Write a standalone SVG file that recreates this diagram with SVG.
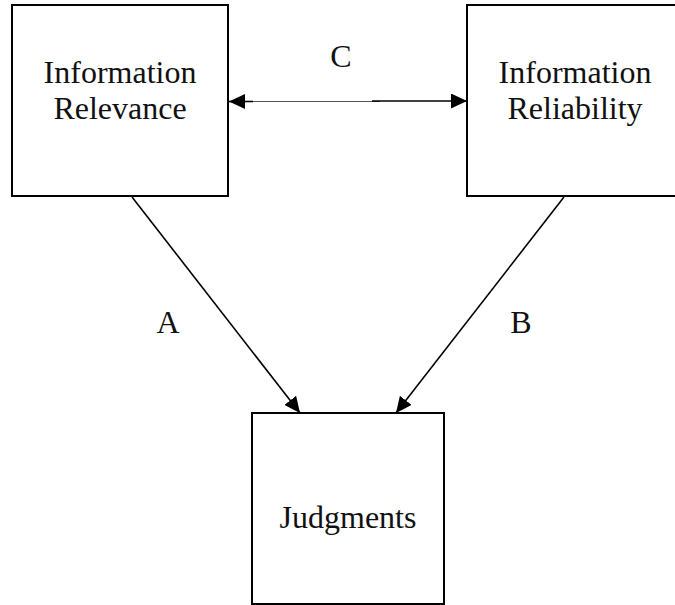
<svg xmlns="http://www.w3.org/2000/svg" width="675" height="605" viewBox="0 0 675 605">
  <style>
    .box { fill: #ffffff; stroke: #000000; stroke-width: 2; }
    .lbl { font-family: "Liberation Serif", "Times New Roman", serif; font-size: 32px; fill: #111111; text-anchor: middle; }
    .edge { fill: none; stroke: #000000; stroke-width: 1.6; }
    .thin { fill: none; stroke: #555555; stroke-width: 1; }
  </style>
  <defs>
    <marker id="head" viewBox="0 0 16 15" refX="16" refY="7.5" markerWidth="16" markerHeight="15" markerUnits="userSpaceOnUse" orient="auto-start-reverse">
      <path d="M0,0 L16,7.5 L0,15 Z" fill="#000000"/>
    </marker>
  </defs>
  <rect width="675" height="605" fill="#ffffff"/>

  <g id="relevance">
    <rect class="box" x="12" y="5" width="216" height="191"/>
    <text class="lbl" x="120" y="83">Information</text>
    <text class="lbl" x="120" y="119">Relevance</text>
  </g>

  <g id="reliability">
    <rect class="box" x="467" y="5" width="216" height="191"/>
    <text class="lbl" x="575" y="83">Information</text>
    <text class="lbl" x="575" y="119">Reliability</text>
  </g>

  <g id="judgments">
    <rect class="box" x="252" y="413" width="192" height="191"/>
    <text class="lbl" x="348" y="528">Judgments</text>
  </g>

  <g id="connectors">
    <!-- C: two-way link between the top boxes -->
    <line class="thin" x1="240" y1="101.5" x2="380" y2="101.5"/>
    <line class="edge" x1="229" y1="101.5" x2="253" y2="101.5" marker-start="url(#head)"/>
    <line class="edge" x1="372" y1="101" x2="467" y2="101" marker-end="url(#head)"/>
    <!-- A and B: into Judgments -->
    <line class="edge" x1="132" y1="197" x2="300" y2="413" marker-end="url(#head)"/>
    <line class="edge" x1="564" y1="197" x2="396" y2="413" marker-end="url(#head)"/>
    <text class="lbl" x="341" y="67">C</text>
    <text class="lbl" x="168" y="333">A</text>
    <text class="lbl" x="521" y="333">B</text>
  </g>
</svg>
